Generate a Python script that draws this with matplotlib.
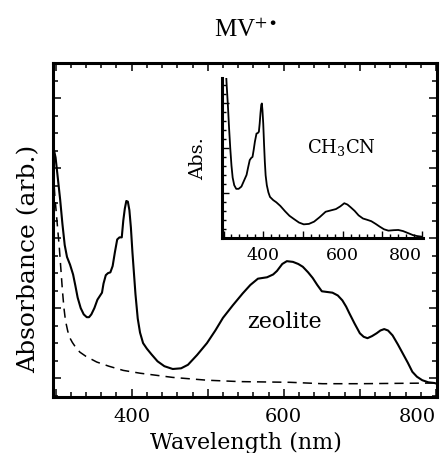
import matplotlib.pyplot as plt
import numpy as np
from matplotlib.ticker import MultipleLocator, FuncFormatter

# main panel: zeolite spectrum (solid) and reference (dashed)
zeo_nm = [297, 300, 303, 306, 309, 312, 315, 319, 323, 326, 329, 333, 337, 341, 344,
          347, 351, 355, 358, 361, 363, 366, 369, 372, 375, 378, 381, 384, 387, 389,
          391, 393, 395, 397, 399, 401, 403, 405, 408, 411, 415, 420, 426, 434, 443,
          454, 465, 474, 486, 499, 510, 520, 533, 546, 556, 566, 578, 586, 591, 598,
          604, 612, 619, 625, 632, 638, 644, 650, 657, 664, 671, 677, 682, 686, 693,
          700, 705, 710, 716, 722, 727, 732, 737, 743, 750, 756, 763, 769, 775, 782,
          790, 798, 801]
zeo_abs = [3.30, 3.15, 2.85, 2.55, 2.20, 1.90, 1.73, 1.62, 1.48, 1.32, 1.15, 1.00, 0.91, 0.87, 0.87,
           0.91, 1.00, 1.12, 1.17, 1.22, 1.35, 1.47, 1.50, 1.51, 1.60, 1.80, 1.98, 2.01, 2.01, 2.25,
           2.42, 2.53, 2.52, 2.40, 2.15, 1.80, 1.50, 1.20, 0.85, 0.65, 0.50, 0.42, 0.34, 0.24, 0.17,
           0.13, 0.14, 0.19, 0.33, 0.50, 0.68, 0.86, 1.04, 1.21, 1.33, 1.42, 1.44, 1.48, 1.53, 1.63,
           1.67, 1.66, 1.63, 1.59, 1.51, 1.43, 1.33, 1.24, 1.23, 1.22, 1.18, 1.11, 1.02, 0.93, 0.78,
           0.64, 0.59, 0.57, 0.60, 0.64, 0.68, 0.70, 0.68, 0.61, 0.48, 0.36, 0.22, 0.09, 0.02, -0.03,
           -0.06, -0.07, -0.08]

ref_nm = [297, 299, 301, 303, 305, 307, 309, 311, 313, 316, 319, 322, 327, 332, 340, 354,
          370, 389, 411, 454, 499, 542, 608, 651, 700, 801]
ref_abs = [2.95, 2.60, 2.35, 2.10, 1.85, 1.55, 1.25, 1.00, 0.82, 0.67, 0.57, 0.51, 0.43, 0.37,
           0.31, 0.23, 0.17, 0.11, 0.07, 0.01, -0.03, -0.05, -0.06, -0.08, -0.08, -0.07]

# inset: acetonitrile solution
ch3_nm = [305, 308, 311, 314, 317, 320, 323, 327, 332, 338, 345, 351, 358, 362, 366, 370,
          373, 376, 379, 383, 386, 389, 391, 393, 395, 396.5, 398, 400, 402, 404, 406, 409,
          413, 417, 425, 433, 443, 455, 466, 477, 490, 502, 515, 528, 542, 557, 570, 583,
          594, 604, 612, 620, 630, 640, 651, 662, 672, 683, 693, 704, 715, 728, 740, 752,
          766, 777, 787, 803]
ch3_abs = [3.90, 3.40, 2.96, 2.45, 2.00, 1.62, 1.35, 1.18, 1.10, 1.10, 1.15, 1.27, 1.41, 1.58, 1.74, 1.79,
           1.81, 1.97, 2.15, 2.33, 2.34, 2.37, 2.55, 2.78, 2.97, 3.00, 2.85, 2.55, 2.10, 1.70, 1.40, 1.18,
           1.02, 0.92, 0.85, 0.80, 0.72, 0.60, 0.50, 0.43, 0.35, 0.31, 0.32, 0.37, 0.47, 0.59, 0.62, 0.65,
           0.71, 0.78, 0.75, 0.69, 0.61, 0.51, 0.44, 0.41, 0.38, 0.32, 0.26, 0.20, 0.17, 0.18, 0.185, 0.16,
           0.11, 0.07, 0.05, 0.03]

labelled = [400, 600, 800]

serif = 'DejaVu Serif'


def wl_fmt(v, pos):
    v = int(round(v))
    return str(v) if v in labelled else ''


def right_align_last(a):
    # the 800 label sits flush with the right end of the axis
    for tk in a.xaxis.get_major_ticks():
        if abs(tk.get_loc() - 800) < 1:
            tk.label1.set_ha('right')


fig = plt.figure(figsize=(4.42, 4.53), dpi=100)
ax = fig.add_axes([0.1206, 0.1236, 0.8674, 0.7373])

ax.plot(zeo_nm, zeo_abs, color='black', lw=1.5)
ax.plot(ref_nm, ref_abs, color='black', lw=1.1, ls=(0, (6, 4)))

ax.set_xlim(297, 801)
ax.set_ylim(-0.27, 4.5)
ax.xaxis.set_major_locator(MultipleLocator(100))
ax.xaxis.set_major_formatter(FuncFormatter(wl_fmt))
ax.xaxis.set_minor_locator(MultipleLocator(20))
ax.yaxis.set_major_locator(MultipleLocator(1))
ax.yaxis.set_minor_locator(MultipleLocator(0.25))
ax.set_yticklabels([])
ax.tick_params(which='both', direction='in', top=True, right=True, width=1.1)
ax.tick_params(which='major', length=6, pad=8, labelsize=14, labelfontfamily=serif)
ax.tick_params(which='minor', length=3.5)
for s in ax.spines.values():
    s.set_linewidth(2.2)

ax.set_xlabel('Wavelength (nm)', fontsize=16, family=serif)
ax.xaxis.set_label_coords(0.503, -0.105)
ax.set_ylabel('Absorbance (arb.)', fontsize=18, family=serif)
ax.yaxis.set_label_coords(-0.035, 0.415)
ax.text(601, 0.8, 'zeolite', fontsize=16, family=serif, ha='center', va='center')
ax.set_title(r'MV$^{+\bullet}$', fontsize=18, family='Liberation Serif', pad=19,
             math_fontfamily='stix')

# inset
ins = fig.add_axes([0.503, 0.474, 0.4548, 0.3532])
ins.patch.set_alpha(0)
ins.plot(ch3_nm, ch3_abs, color='black', lw=1.3)
ins.set_xlim(297, 803)
ins.set_ylim(0, 3.56)
ins.spines['top'].set_visible(False)
ins.spines['right'].set_visible(False)
ins.spines['left'].set_linewidth(2.2)
ins.spines['bottom'].set_linewidth(2.2)
ins.xaxis.set_major_locator(MultipleLocator(100))
ins.xaxis.set_major_formatter(FuncFormatter(wl_fmt))
ins.xaxis.set_minor_locator(MultipleLocator(20))
ins.yaxis.set_major_locator(MultipleLocator(1))
ins.yaxis.set_minor_locator(MultipleLocator(0.2))
ins.set_yticklabels([])
ins.tick_params(which='both', direction='in', width=1.0)
ins.tick_params(which='major', length=5, pad=6, labelsize=12.5, labelfontfamily=serif)
ins.tick_params(which='minor', length=3)
ins.set_ylabel('Abs.', fontsize=14, family=serif)
ins.yaxis.set_label_coords(-0.075, 0.5)
ins.text(598, 2.03, 'CH$_3$CN', fontsize=13, family=serif, ha='center', va='center',
         math_fontfamily='dejavuserif')

fig.canvas.draw()
right_align_last(ax)
right_align_last(ins)

fig.savefig('out.png', dpi=100)
